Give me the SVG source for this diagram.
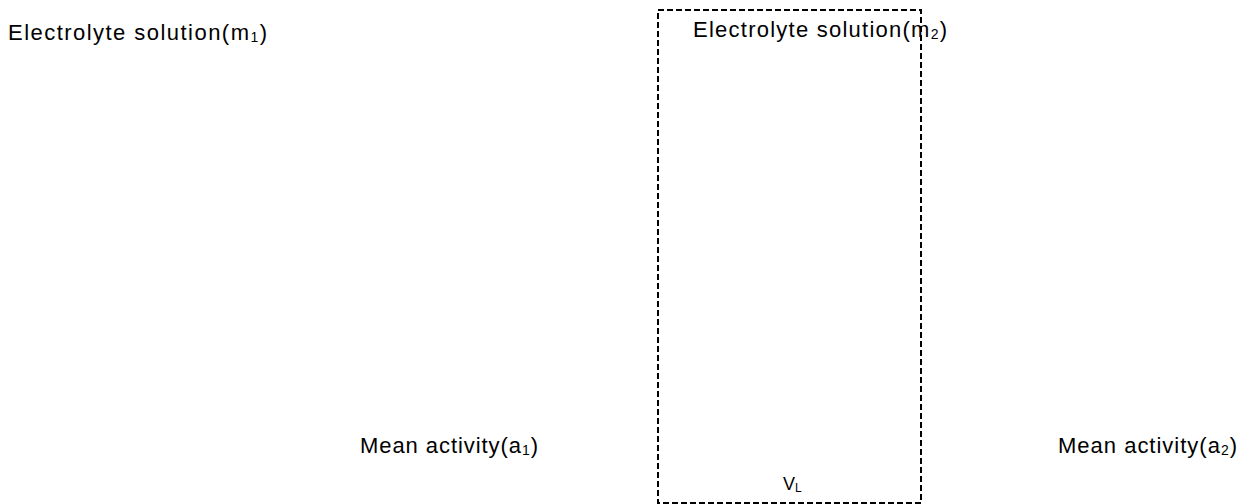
<svg xmlns="http://www.w3.org/2000/svg" width="1239" height="504" viewBox="0 0 1239 504">
<style>
text{font-family:"Liberation Sans",Arial,sans-serif;font-size:22px;fill:#000}
.sub{font-size:14px}
.box{fill:none;stroke:#000;stroke-width:2;stroke-dasharray:6 3}
</style>
<rect width="1239" height="504" fill="#fff"/>
<g id="connectors"></g>
<g id="box-vl">
<rect class="box" x="658" y="10" width="263" height="493"/>
<text x="783" y="490" style="font-size:18px">V<tspan class="sub" dy="2" style="font-size:12px">L</tspan></text>
</g>
<g id="solution-m1">
<text x="8" y="40" textLength="259" lengthAdjust="spacing">Electrolyte solution(m<tspan class="sub" dy="2">1</tspan><tspan dy="-2">)</tspan></text>
</g>
<g id="solution-m2">
<text x="693" y="37" textLength="254" lengthAdjust="spacing">Electrolyte solution(m<tspan class="sub" dy="2">2</tspan><tspan dy="-2">)</tspan></text>
</g>
<g id="activity-a1">
<text x="360" y="453" textLength="178" lengthAdjust="spacing">Mean activity(a<tspan class="sub" dy="2">1</tspan><tspan dy="-2">)</tspan></text>
</g>
<g id="activity-a2">
<text x="1058" y="453" textLength="179" lengthAdjust="spacing">Mean activity(a<tspan class="sub" dy="2">2</tspan><tspan dy="-2">)</tspan></text>
</g>
</svg>
